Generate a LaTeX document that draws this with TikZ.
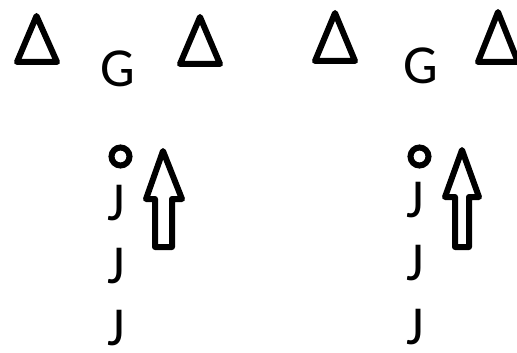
\documentclass[tikz,border=0pt]{standalone}
\usepackage{fontspec}
\setmainfont{Carlito}
\begin{document}
\begin{tikzpicture}[x=1pt,y=-1pt,
  tri/.style={line width=6pt,line join=round},
  ring/.style={line width=6pt},
  blockarrow/.style={line width=6pt,line join=round},
  letter/.style={inner sep=0pt,anchor=base,font=\fontsize{55}{60}\selectfont,text=black}]
\useasboundingbox (0,0) rectangle (517,353);
% triangles
\draw[tri] (36.5,16) -- (17,62) -- (57,62) -- cycle;
\draw[tri] (200,17) -- (180,64) -- (220,64) -- cycle;
\draw[tri] (335,13) -- (315,61) -- (355,61) -- cycle;
\draw[tri] (498,12) -- (478,62) -- (518,62) -- cycle;
% letters G
\node[letter] (g1) at (117.5,87) {G};
\node[letter] (g2) at (421,84) {G};
% rings
\draw[ring] (120.5,156.5) circle (9);
\draw[ring] (419.5,156.5) circle (9);
% block arrows
\draw[blockarrow] (163,151) -- (182,199) -- (172,199) -- (172,247) -- (155,247) -- (155,199) -- (146,199) -- cycle;
\draw[blockarrow] (462,150) -- (479,197) -- (469,197) -- (469,247) -- (455,247) -- (455,197) -- (445,197) -- cycle;
% J letters
\node[letter] (j1) at (116.5,220) {J};
\node[letter] (j2) at (116.5,283) {J};
\node[letter] (j3) at (116.5,345) {J};
\node[letter] (j4) at (415.5,217) {J};
\node[letter] (j5) at (415.5,280) {J};
\node[letter] (j6) at (415.5,344) {J};
\end{tikzpicture}
\end{document}
